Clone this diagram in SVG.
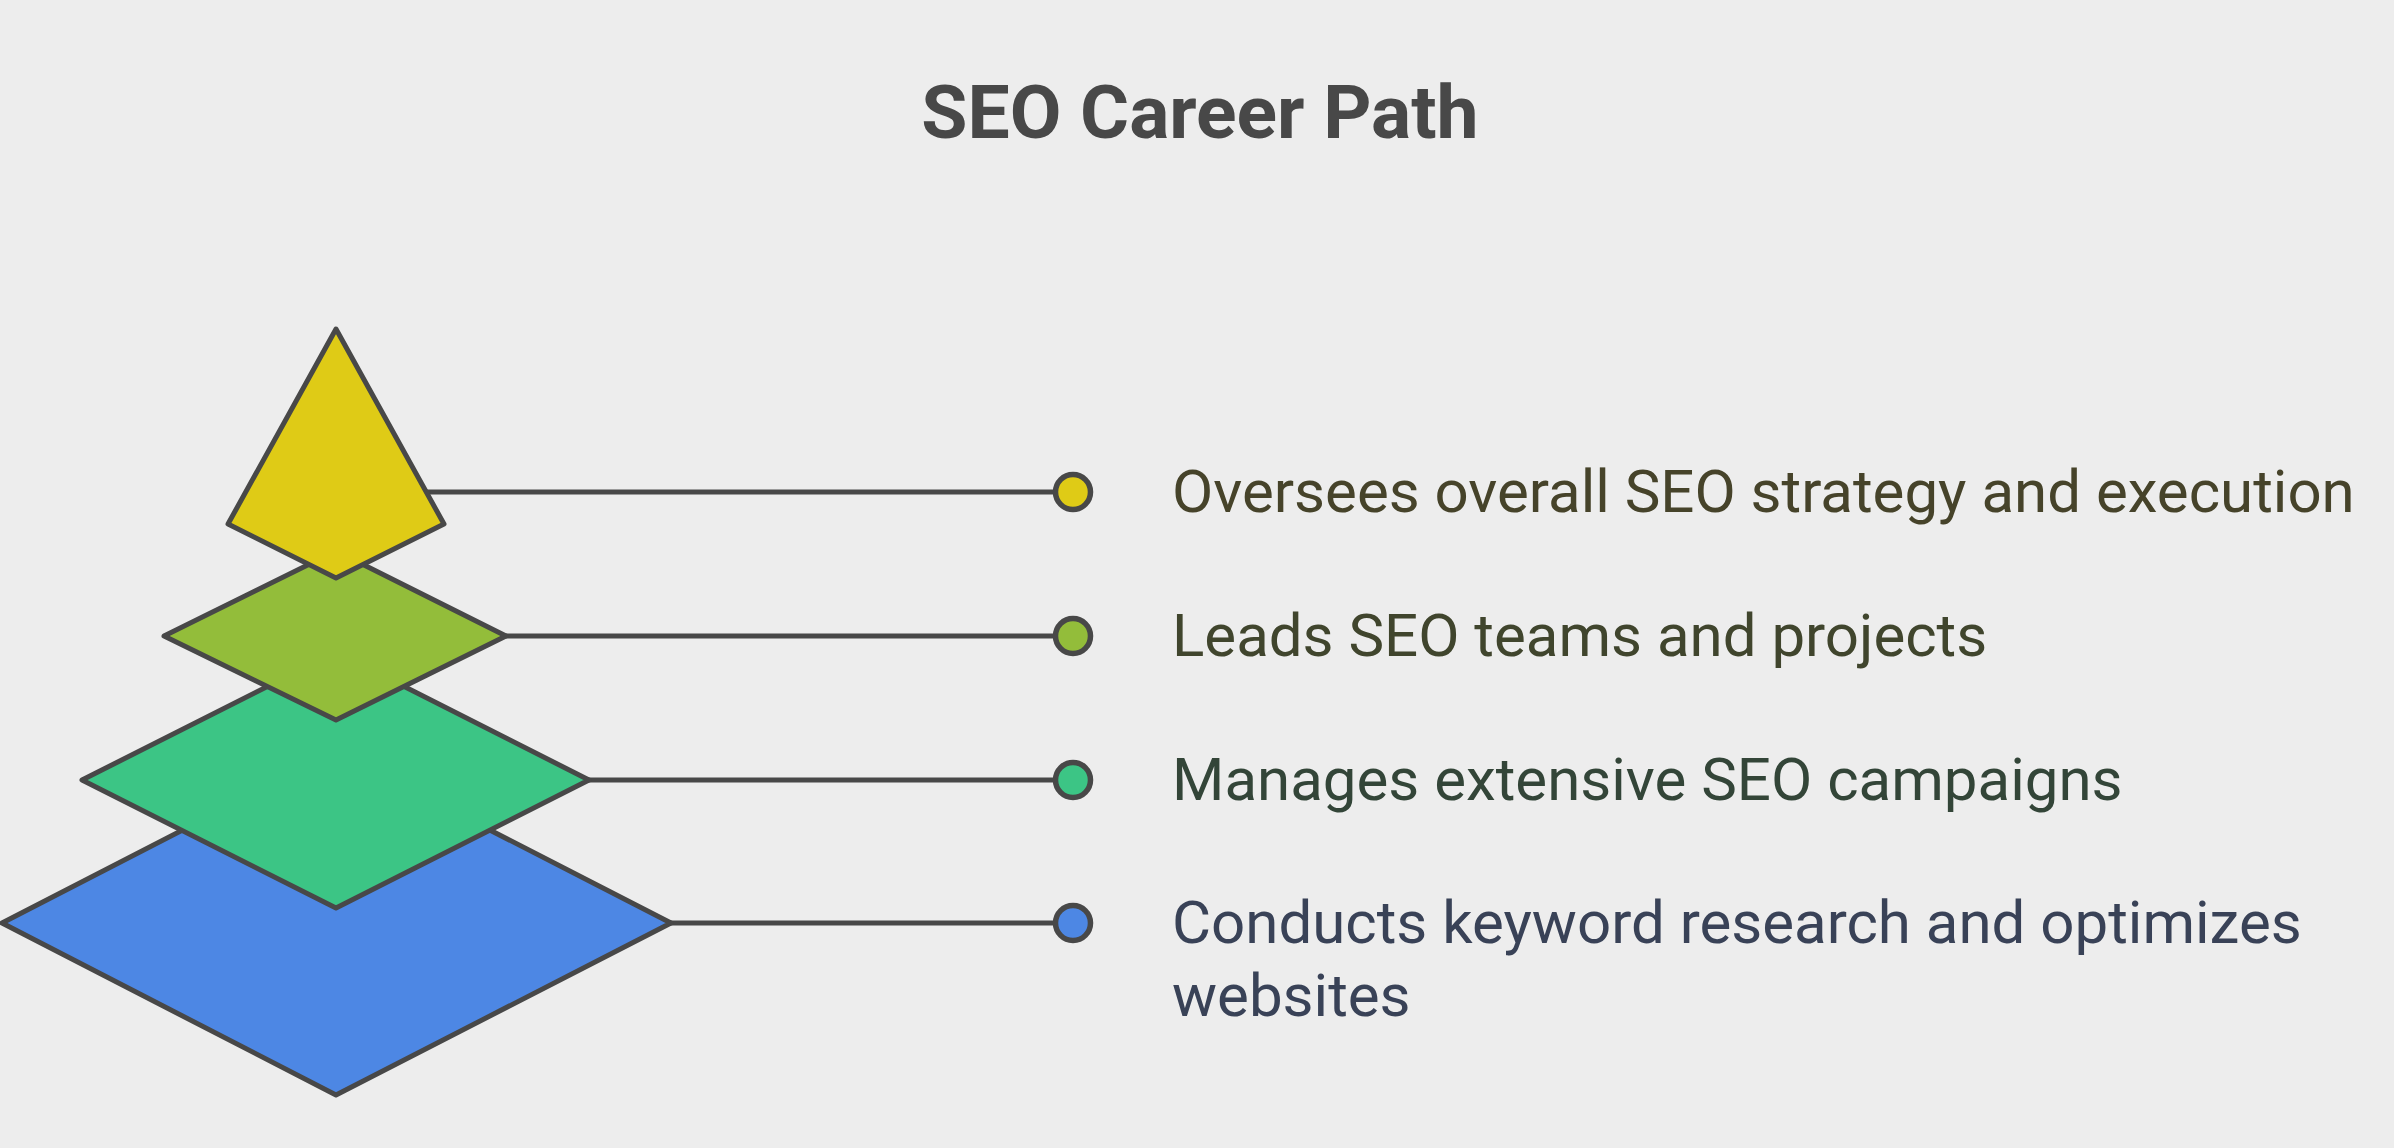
<svg xmlns="http://www.w3.org/2000/svg" width="2394" height="1148" viewBox="0 0 2394 1148">
<style>
.sh{stroke:#484848;stroke-width:5;stroke-linejoin:round}
.ln{stroke:#484848;stroke-width:5;fill:none}
.dot{stroke:#484848;stroke-width:5.5}
.lbl{font-family:Roboto,"Liberation Sans",sans-serif;font-size:60px}
.title{font-family:Roboto,"Liberation Sans",sans-serif;font-size:75px;font-weight:bold;fill:#484848}
</style>
<rect width="2394" height="1148" fill="#EDEDED"/>
<text class="title" x="1200" y="138" text-anchor="middle">SEO Career Path</text>
<g id="connectors">
<line class="ln" x1="426" y1="492" x2="1056" y2="492"/>
<line class="ln" x1="506" y1="636" x2="1056" y2="636"/>
<line class="ln" x1="589" y1="780" x2="1056" y2="780"/>
<line class="ln" x1="671" y1="923" x2="1056" y2="923"/>
</g>
<g id="level4">
<polygon class="sh" fill="#4D87E4" points="2,923 336,751 671,923 336,1095"/>
<circle class="dot" fill="#4D87E4" cx="1073" cy="923" r="17.5"/>
<text class="lbl" fill="#394257" x="1172" y="943">Conducts keyword research and optimizes</text>
<text class="lbl" fill="#394257" x="1172" y="1016">websites</text>
</g>
<g id="level3">
<polygon class="sh" fill="#3CC585" points="82,780 336,652 589,780 336,908"/>
<circle class="dot" fill="#3CC585" cx="1073" cy="780" r="17.5"/>
<text class="lbl" fill="#334538" x="1172" y="800">Manages extensive SEO campaigns</text>
</g>
<g id="level2">
<polygon class="sh" fill="#93BD3A" points="164,636 336,551 506,636 336,720"/>
<circle class="dot" fill="#93BD3A" cx="1073" cy="636" r="17.5"/>
<text class="lbl" fill="#40452D" x="1172" y="656">Leads SEO teams and projects</text>
</g>
<g id="level1">
<polygon class="sh" fill="#DFCB16" points="336,329 444,524 336,578 228,524"/>
<circle class="dot" fill="#DFCB16" cx="1073" cy="492" r="17.5"/>
<text class="lbl" fill="#46432A" x="1172" y="512">Oversees overall SEO strategy and execution</text>
</g>
</svg>
